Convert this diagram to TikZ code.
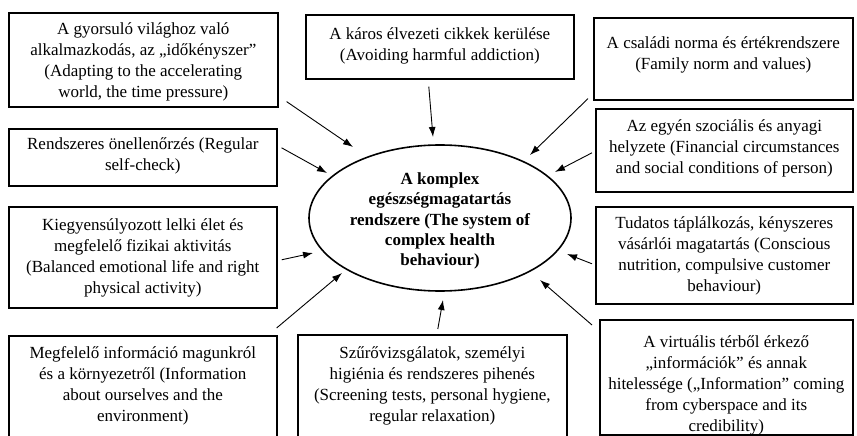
\documentclass[tikz,border=0pt]{standalone}
\usepackage{fontspec}
\setmainfont{Liberation Serif}
\usetikzlibrary{shapes.geometric,arrows.meta}
\begin{document}
\begin{tikzpicture}[x=1pt,y=-1pt,
  box/.style={draw=black, line width=1.6pt, anchor=north west, inner sep=0pt},
  txt/.style={anchor=north, align=center, inner sep=0pt, font=\fontsize{17}{21.2}\selectfont},
  ellbox/.style={draw=black, line width=1.6pt, ellipse, inner sep=0pt, minimum width=262pt, minimum height=146pt},
  elltxt/.style={align=center, inner sep=0pt, font=\fontsize{17}{20.2}\selectfont\bfseries},
  arr/.style={line width=0.9pt, -{Latex[length=10pt,width=7pt]}},
]
\useasboundingbox (0,0) rectangle (857,436);

% boxes
\node[box, minimum width=269pt, minimum height=94pt] (b1) at (8,12) {};
\node[box, minimum width=268pt, minimum height=64pt] (b2) at (305,14) {};
\node[box, minimum width=259pt, minimum height=82pt] (b3) at (593,17) {};
\node[box, minimum width=268pt, minimum height=57pt] (b4) at (8,128) {};
\node[box, minimum width=268pt, minimum height=101pt] (b5) at (8,206) {};
\node[box, minimum width=257pt, minimum height=83pt] (b6) at (595,108) {};
\node[box, minimum width=257pt, minimum height=97pt] (b7) at (595,206) {};
\node[box, minimum width=253pt, minimum height=115pt] (b8) at (599,319) {};
\node[box, minimum width=268pt, minimum height=120pt] (b9) at (8,335) {};
\node[box, minimum width=269pt, minimum height=120pt] (b10) at (297,334) {};

% texts
\node[txt] (t1) at ([yshift=-10pt]b1.north) {A gyorsuló világhoz való\\alkalmazkodás, az „időkényszer”\\(Adapting to the accelerating\\world, the time pressure)};
\node[txt] (t2) at ([yshift=-13pt]b2.north) {A káros élvezeti cikkek kerülése\\(Avoiding harmful addiction)};
\node[txt] (t3) at ([yshift=-19pt]b3.north) {A családi norma és értékrendszere\\(Family norm and values)};
\node[txt] (t4) at ([yshift=-9pt]b4.north) {Rendszeres önellenőrzés (Regular\\self-check)};
\node[txt] (t5) at ([yshift=-12pt]b5.north) {Kiegyensúlyozott lelki élet és\\megfelelő fizikai aktivitás\\(Balanced emotional life and right\\physical activity)};
\node[txt] (t6) at ([yshift=-11pt]b6.north) {Az egyén szociális és anyagi\\helyzete (Financial circumstances\\and social conditions of person)};
\node[txt] (t7) at ([yshift=-10pt]b7.north) {Tudatos táplálkozás, kényszeres\\vásárlói magatartás (Conscious\\nutrition, compulsive customer\\behaviour)};
\node[txt] (t8) at ([yshift=-16pt]b8.north) {A virtuális térből érkező\\„információk” és annak\\hitelessége („Information” coming\\from cyberspace and its\\credibility)};
\node[txt] (t9) at ([yshift=-11pt]b9.north) {Megfelelő információ magunkról\\és a környezetről (Information\\about ourselves and the\\environment)};
\node[txt] (t10) at ([yshift=-12pt]b10.north) {Szűrővizsgálatok, személyi\\higiénia és rendszeres pihenés\\(Screening tests, personal hygiene,\\regular relaxation)};

% centre
\node[ellbox] (ell) at (440,218) {};
\node[elltxt] (te) at (440,221) {A komplex\\egészségmagatartás\\rendszere (The system of\\complex health\\behaviour)};

% arrows
\draw[arr] ([shift={(8,-6)}]b1.south east) -- ([shift={(-87,-71)}]ell.center);
\draw[arr] ([shift={(-11,7)}]b2.south) -- ([shift={(-7,-81)}]ell.center);
\draw[arr] ([shift={(-5,-2)}]b3.south west) -- ([shift={(90,-63)}]ell.center);
\draw[arr] ([shift={(-3,2.5)}]b6.west) -- ([shift={(115,-46)}]ell.center);
\draw[arr] ([shift={(4,-9.5)}]b4.east) -- ([shift={(-113,-45)}]ell.center);
\draw[arr] ([shift={(4,2.5)}]b5.east) -- ([shift={(-127,35)}]ell.center);
\draw[arr] ([shift={(-3,8.5)}]b7.west) -- ([shift={(127,36)}]ell.center);
\draw[arr] ([shift={(-7,6)}]b8.north west) -- ([shift={(100,62)}]ell.center);
\draw[arr] ([shift={(-1,-7)}]b9.north east) -- ([shift={(-98,55)}]ell.center);
\draw[arr] ([shift={(5.5,-5)}]b10.north) -- ([shift={(3,82)}]ell.center);
\end{tikzpicture}
\end{document}
